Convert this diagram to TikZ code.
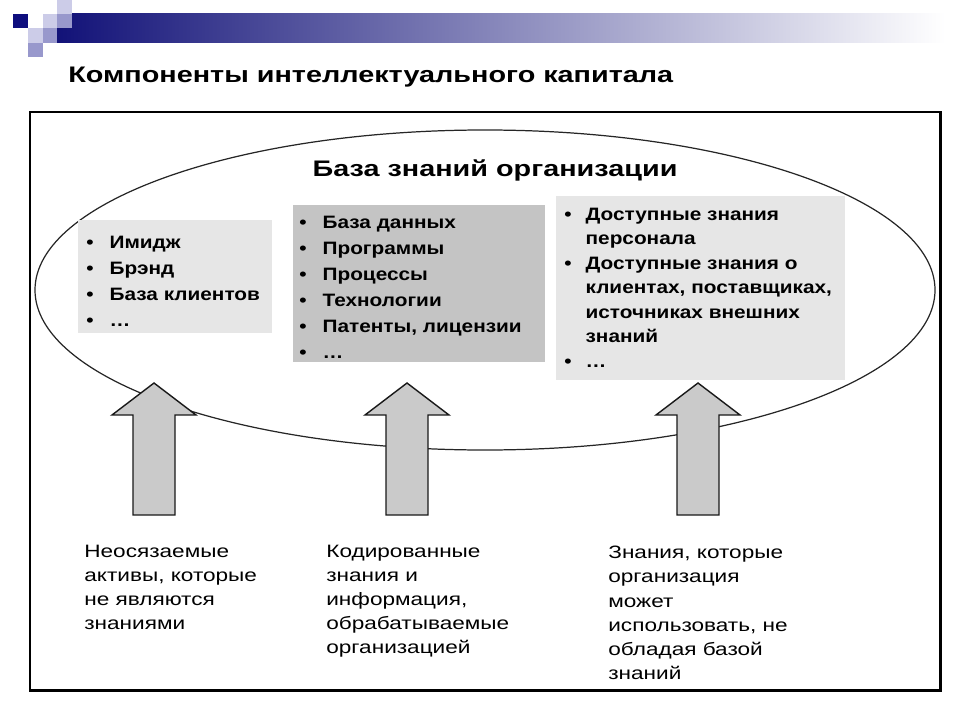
\documentclass[tikz,border=0pt]{standalone}
\usepackage{fontspec}
\setmainfont{Liberation Sans}
\newfontfamily\headwide[FakeStretch=1.28]{Liberation Sans}
\newfontfamily\itemwide[FakeStretch=1.16]{Liberation Sans}
\newfontfamily\labwide[FakeStretch=1.26]{Liberation Sans}
\usetikzlibrary{positioning}
\definecolor{barnavy}{RGB}{18,18,120}
\definecolor{sqdark}{RGB}{14,14,126}
\definecolor{sqmid}{RGB}{152,152,204}
\definecolor{sqlight}{RGB}{204,204,232}
\definecolor{boxlight}{RGB}{230,230,230}
\definecolor{boxdark}{RGB}{196,196,196}
\definecolor{arrowfill}{RGB}{202,202,202}
\tikzset{
  frame/.style   ={draw=black, line width=1.7pt},
  kbase/.style   ={draw=black!85, line width=0.7pt},
  upblock/.style ={draw=black!90, fill=arrowfill, line width=0.8pt, line join=miter},
  head/.style    ={inner sep=0pt, font=\headwide\fontsize{12.8}{15}\selectfont\bfseries},
  itembox/.style ={anchor=north west, inner sep=0pt, align=left,
                   font=\itemwide\fontsize{10.2}{14.8}\selectfont\bfseries},
  srclab/.style  ={anchor=north west, inner sep=0pt, align=left,
                   font=\labwide\fontsize{10.2}{13.7}\selectfont},
}

\begin{document}
\begin{tikzpicture}[x=0.2mm,y=-0.2mm]
  \useasboundingbox (0,0) rectangle (960,720);
  \shade[left color=barnavy, middle color=barnavy!60!white, right color=white] (57,14) rectangle (945,43);
  \fill[sqdark] (13,14) rectangle (28,28);
  \fill[sqlight] (43,14) rectangle (57,28);
  \fill[sqlight] (57,0) rectangle (72,14);
  \fill[sqmid] (57,14) rectangle (72,28);
  \fill[sqlight] (28,28) rectangle (43,43);
  \fill[sqmid] (43,28) rectangle (57,43);
  \fill[sqmid] (28,43) rectangle (43,57);
  \node[head, anchor=base west] (title) at (68,83) {Компоненты интеллектуального капитала};
  \draw[frame] (30,112) rectangle (940,690);
  \draw[kbase] (485,290) ellipse [x radius=450, y radius=160];
  \node[head, anchor=base] (kbtitle) at (495,177) {База знаний организации};
  \fill[boxlight] (78,220) rectangle (272,333);
  \fill[boxdark] (293,205) rectangle (545,362);
  \fill[boxlight] (556,196) rectangle (845,380);
  \node[itembox] (imgbox) at (86,230) {\begin{tabular}{@{}l@{\hspace{3.2mm}}l@{}}
    • & Имидж\\
    • & Брэнд\\
    • & База клиентов\\
    • & \dots
  \end{tabular}};
  \node[itembox] (codebox) at (299,210) {\begin{tabular}{@{}l@{\hspace{3.2mm}}l@{}}
    • & База данных\\
    • & Программы\\
    • & Процессы\\
    • & Технологии\\
    • & Патенты, лицензии\\
    • & \dots
  \end{tabular}};
  \node[itembox, font=\itemwide\fontsize{10.2}{13.9}\selectfont\bfseries] (staffbox) at (564,203) {\begin{tabular}{@{}l@{\hspace{2.8mm}}l@{}}
    • & Доступные знания\\
      & персонала\\
    • & Доступные знания о\\
      & клиентах, поставщиках,\\
      & источниках внешних\\
      & знаний\\
    • & \dots
  \end{tabular}};
  \foreach \ax in {154,407,698}
    \draw[upblock] (\ax-21,515) -- (\ax-21,415) -- (\ax-42,415) -- (\ax,383)
      -- (\ax+42,415) -- (\ax+21,415) -- (\ax+21,515) -- cycle;
  \node[srclab] (imglab) at (84,545) {Неосязаемые\\активы, которые\\не являются\\знаниями};
  \node[srclab] (codelab) at (326,545) {Кодированные\\знания и\\информация,\\обрабатываемые\\организацией};
  \node[srclab] (stafflab) at (608,546) {Знания, которые\\организация\\может\\использовать, не\\обладая базой\\знаний};
\end{tikzpicture}
\end{document}
